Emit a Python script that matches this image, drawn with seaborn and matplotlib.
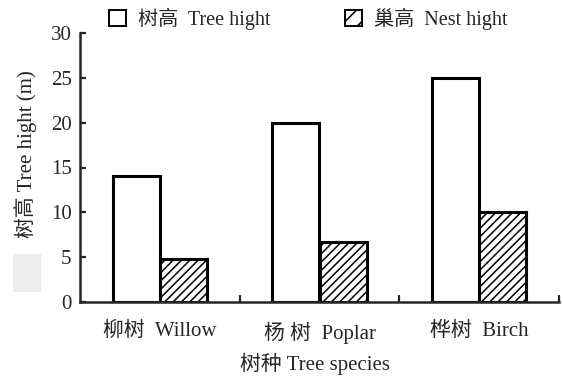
import matplotlib
matplotlib.use("Agg")
import matplotlib.pyplot as plt
from matplotlib.patches import Patch, Rectangle
import seaborn as sns
import pandas as pd

# Tree species and measured heights (m)
species = ["柳树  Willow", "杨 树  Poplar", "桦树  Birch"]
series = ["树高  Tree hight", "巢高  Nest hight"]
tree_height = [14.0, 20.0, 25.0]
nest_height = [4.8, 6.7, 10.0]
y_ticks = [0, 5, 10, 15, 20, 25, 30]

sns.set_style("ticks")
plt.rcParams["font.family"] = ["Liberation Serif", "Noto Sans CJK SC"]
plt.rcParams["hatch.linewidth"] = 1.1
plt.rcParams["hatch.color"] = "black"

df = pd.DataFrame({
    "species": species * 2,
    "series": [series[0]] * 3 + [series[1]] * 3,
    "height": tree_height + nest_height,
})

fig = plt.figure(figsize=(5.63, 3.76), dpi=100)
ax = fig.add_axes([80 / 563, 1 - 302 / 376, 479 / 563, 269 / 376])

sns.barplot(data=df, x="species", y="height", hue="series", order=species,
            hue_order=series, palette=["white", "white"], saturation=1,
            edgecolor="black", linewidth=2.2, width=0.59, dodge=True,
            errorbar=None, legend=False, ax=ax)

for bar in ax.containers[1]:
    bar.set_hatch("////")

ax.set_xlim(-0.5, 2.5)
ax.set_ylim(0, 30)
ax.set_yticks(y_ticks)
ax.set_yticklabels([str(t) for t in y_ticks])

for side in ("top", "right"):
    ax.spines[side].set_visible(False)
for side in ("left", "bottom"):
    ax.spines[side].set_linewidth(1.8)

ax.tick_params(axis="y", direction="in", length=4, width=1.6, labelsize=15, pad=6)
ax.tick_params(axis="x", which="major", length=0, labelsize=15, pad=14)
ax.set_xticks([0.5, 1.5, 2.5], minor=True)
ax.tick_params(axis="x", which="minor", direction="in", length=5, width=1.6)

ax.set_ylabel("树高 Tree hight (m)", fontsize=15)
ax.yaxis.set_label_coords(-0.09, 0.55)
ax.set_xlabel("树种 Tree species", fontsize=15, va="top")
ax.xaxis.set_label_coords(0.49, -0.19)

handles = [Patch(facecolor="white", edgecolor="black", linewidth=1.4),
           Patch(facecolor="white", edgecolor="black", linewidth=1.4, hatch="//")]
ax.legend(handles, series, loc="center", bbox_to_anchor=(0.477, 1 + 14 / 269),
          ncol=2, frameon=False, fontsize=14.5, handlelength=0.85, handleheight=0.85,
          handletextpad=0.6, columnspacing=3.7, borderaxespad=0)

fig.patches.append(Rectangle((13 / 563, 1 - 292 / 376), 28 / 563, 38 / 376,
                             transform=fig.transFigure, facecolor="#ececec",
                             edgecolor="none", zorder=5))

fig.savefig("out.png", dpi=100)
